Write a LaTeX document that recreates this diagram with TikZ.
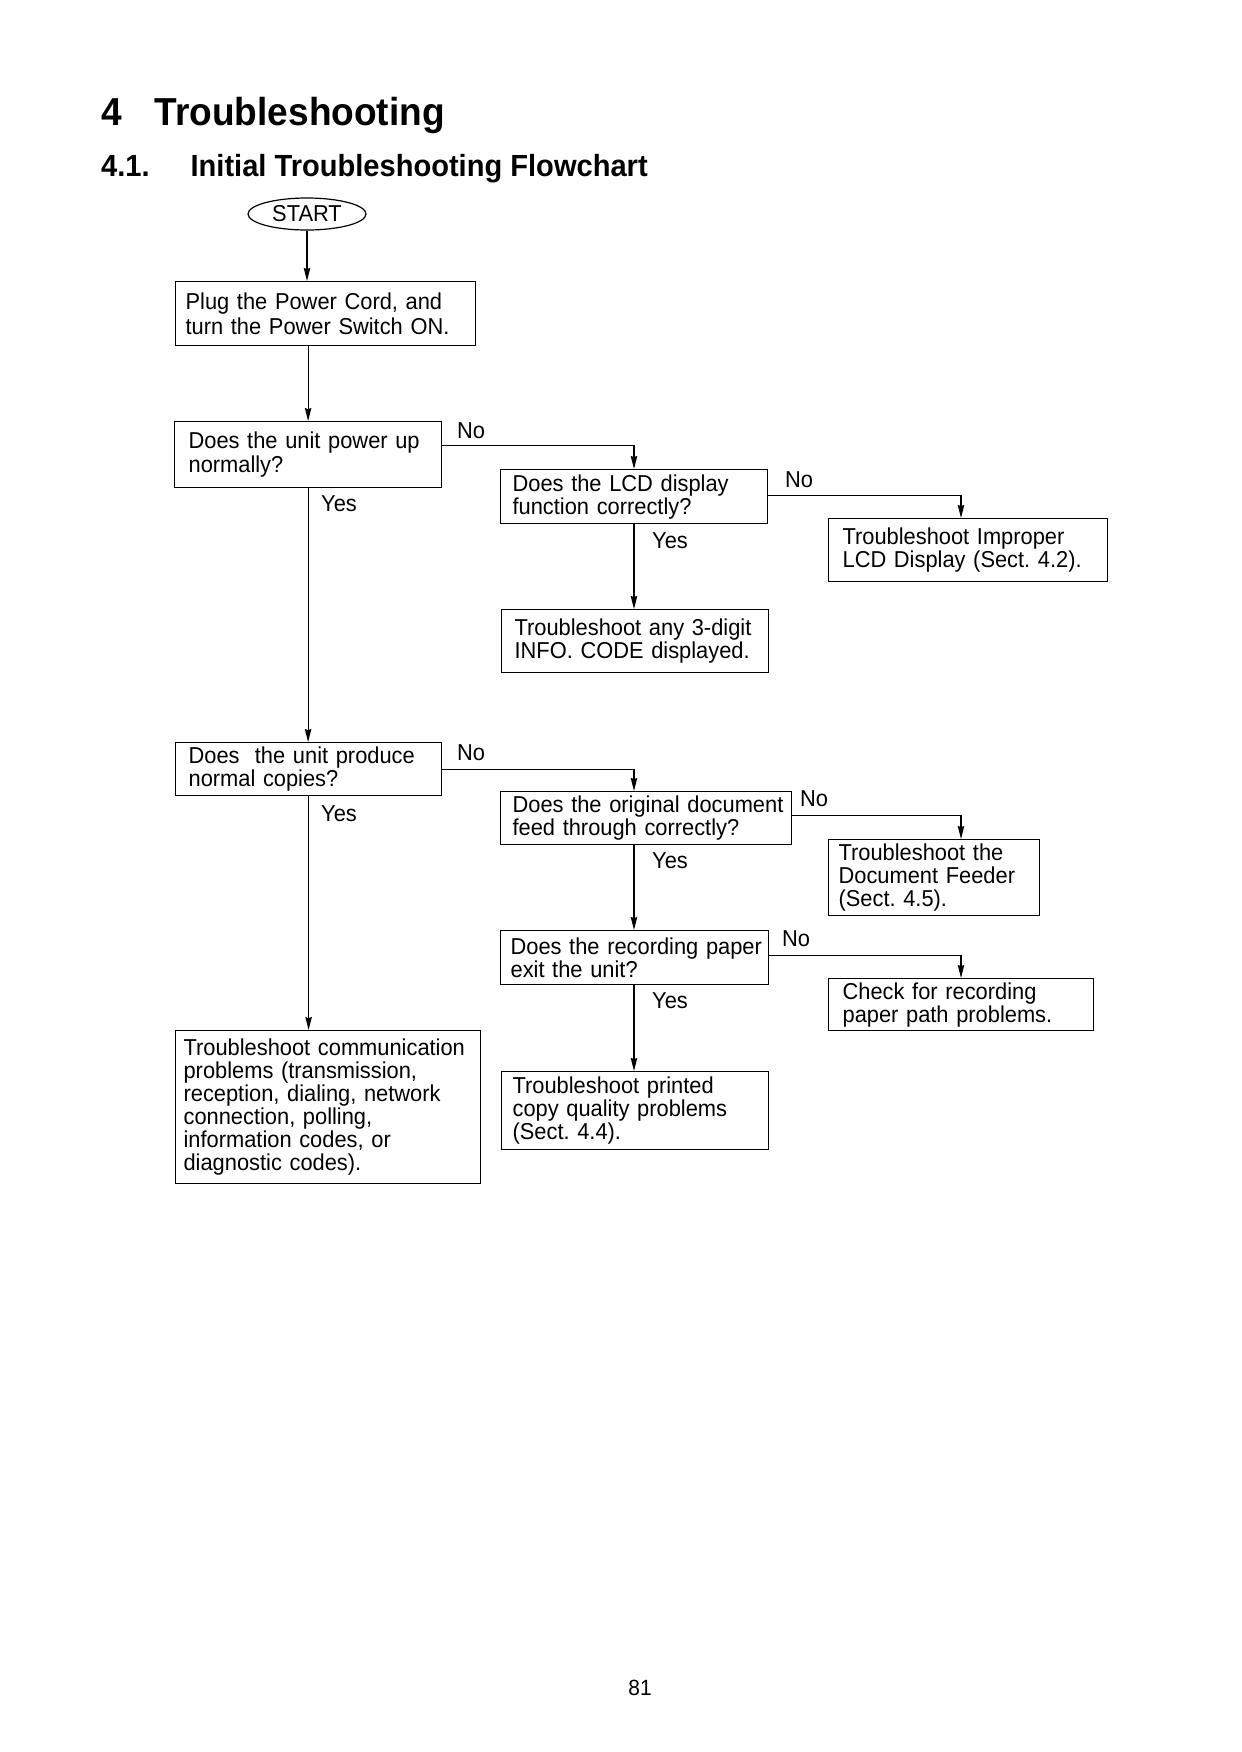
\documentclass[tikz,border=0pt]{standalone}
\usepackage{fontspec}
\setmainfont{Liberation Sans}[FakeStretch=0.95]
\usetikzlibrary{shapes.geometric,arrows.meta}
\frenchspacing
\begin{document}
\begin{tikzpicture}[x=0.5pt,y=-0.5pt,line width=0.6pt,
  box/.style={draw, anchor=north west, align=left, inner ysep=0pt,
    font=\fontsize{11.5}{11.5}\selectfont},
  arr/.style={-{Stealth[length=6.5pt,width=3.2pt,inset=0.6pt]}},
  lbl/.style={font=\fontsize{11.5}{12}\selectfont, inner sep=0pt},
  ttl/.style={anchor=base west, inner sep=0pt, font=\fontsize{19.5}{22}\bfseries\selectfont},
  sttl/.style={anchor=base west, inner sep=0pt, font=\fontsize{15.3}{18}\bfseries\selectfont}]
\useasboundingbox (0,0) rectangle (1242,1752);
% titles
\node[ttl] (tnum) at (101,125) {4};
\node[ttl] (ttext) at (154,125) {Troubleshooting};
\node[sttl] (snum) at (100.5,176) {4.1.};
\node[sttl] (stext) at (190,176) {Initial Troubleshooting Flowchart};
% column coordinates
\coordinate (colM) at (634,0);
\coordinate (colR) at (961,0);
% start
\node[draw, ellipse, minimum width=59pt, minimum height=16pt, inner sep=0pt,
  font=\fontsize{11.5}{12}\selectfont] (start) at (307,214) {START};
% boxes
\node[box, text width=140pt, inner xsep=5pt, minimum height=32pt, font=\fontsize{11.5}{12.3}\selectfont] (plug) at (175,281)
  {\mbox{Plug the Power Cord, and}\\\mbox{turn the Power Switch ON.}};
\node[box, text width=119.5pt, inner xsep=7pt, minimum height=33pt, font=\fontsize{11.5}{12.3}\selectfont] (q1) at (174,421)
  {\mbox{Does the unit power up}\\\mbox{normally?}};
\node[box, text width=121.5pt, inner xsep=6pt, minimum height=27pt] (lcd) at (500,469)
  {\mbox{Does the LCD display}\\\mbox{function correctly?}};
\node[box, text width=125.5pt, inner xsep=7pt, minimum height=31.5pt] (impr) at (828,518)
  {\mbox{Troubleshoot Improper}\\\mbox{LCD Display (Sect. 4.2).}};
\node[box, text width=120.5pt, inner xsep=6.5pt, minimum height=31.5pt] (info) at (501,609)
  {\mbox{Troubleshoot any 3-digit}\\\mbox{INFO. CODE displayed.}};
\node[box, text width=120pt, inner xsep=6.5pt, minimum height=26.5pt] (q2) at (175,742)
  {\mbox{Does\ \ the unit produce}\\\mbox{normal copies?}};
\node[box, text width=133.5pt, inner xsep=6pt, minimum height=26.5pt] (doc) at (500,791)
  {\mbox{Does the original document}\\\mbox{feed through correctly?}};
\node[box, text width=95.5pt, inner xsep=5pt, minimum height=38pt] (feed) at (828,839)
  {\mbox{Troubleshoot the}\\\mbox{Document Feeder}\\\mbox{(Sect. 4.5).}};
\node[box, text width=124pt, inner xsep=5pt, minimum height=27pt] (rec) at (500,930)
  {\mbox{Does the recording paper}\\\mbox{exit the unit?}};
\node[box, text width=118.5pt, inner xsep=7pt, minimum height=26pt] (check) at (828,978)
  {\mbox{Check for recording}\\\mbox{paper path problems.}};
\node[box, text width=122.5pt, inner xsep=5.5pt, minimum height=39pt] (print) at (501,1071)
  {\mbox{Troubleshoot printed}\\\mbox{copy quality problems}\\\mbox{(Sect. 4.4).}};
\node[box, text width=144.5pt, inner xsep=4pt, minimum height=76.5pt] (comm) at (175,1030)
  {\mbox{Troubleshoot communication}\\\mbox{problems (transmission,}\\\mbox{reception, dialing, network}\\\mbox{connection, polling,}\\\mbox{information codes, or}\\\mbox{diagnostic codes).}};
% labels
\node[lbl] (no1) at (471,431) {No};
\node[lbl] (no2) at (799,480) {No};
\node[lbl] (yes1) at (339,504) {Yes};
\node[lbl] (yes2) at (670,541) {Yes};
\node[lbl] (no3) at (471,753) {No};
\node[lbl] (yes3) at (339,814) {Yes};
\node[lbl] (no4) at (814,799) {No};
\node[lbl] (yes4) at (670,861) {Yes};
\node[lbl] (no5) at (796,939) {No};
\node[lbl] (yes5) at (670,1001) {Yes};
% connectors
\draw[arr] (start.south) -- (start.south |- plug.north);
\draw[arr] (q1.north |- plug.south) -- (q1.north);
\draw[arr] (q1.south) -- (q1.south |- q2.north);
\draw[arr] ([yshift=4.5pt]q1.east) -| (colM |- lcd.north);
\draw[arr] ([yshift=0.5pt]lcd.east) -| (colR |- impr.north);
\draw[arr] (colM |- lcd.south) -- (colM |- info.north);
\draw[arr] (q2.south) -- (q2.south |- comm.north);
\draw[arr] (q2.east) -| (colM |- doc.north);
\draw[arr] ([yshift=1.5pt]doc.east) -| (colR |- feed.north);
\draw[arr] (colM |- doc.south) -- (colM |- rec.north);
\draw[arr] ([yshift=1pt]rec.east) -| (colR |- check.north);
\draw[arr] (colM |- rec.south) -- (colM |- print.north);
% page number
\node[font=\fontsize{11}{12}\selectfont, inner sep=0pt] (page) at (640,1688) {81};
\end{tikzpicture}
\end{document}
